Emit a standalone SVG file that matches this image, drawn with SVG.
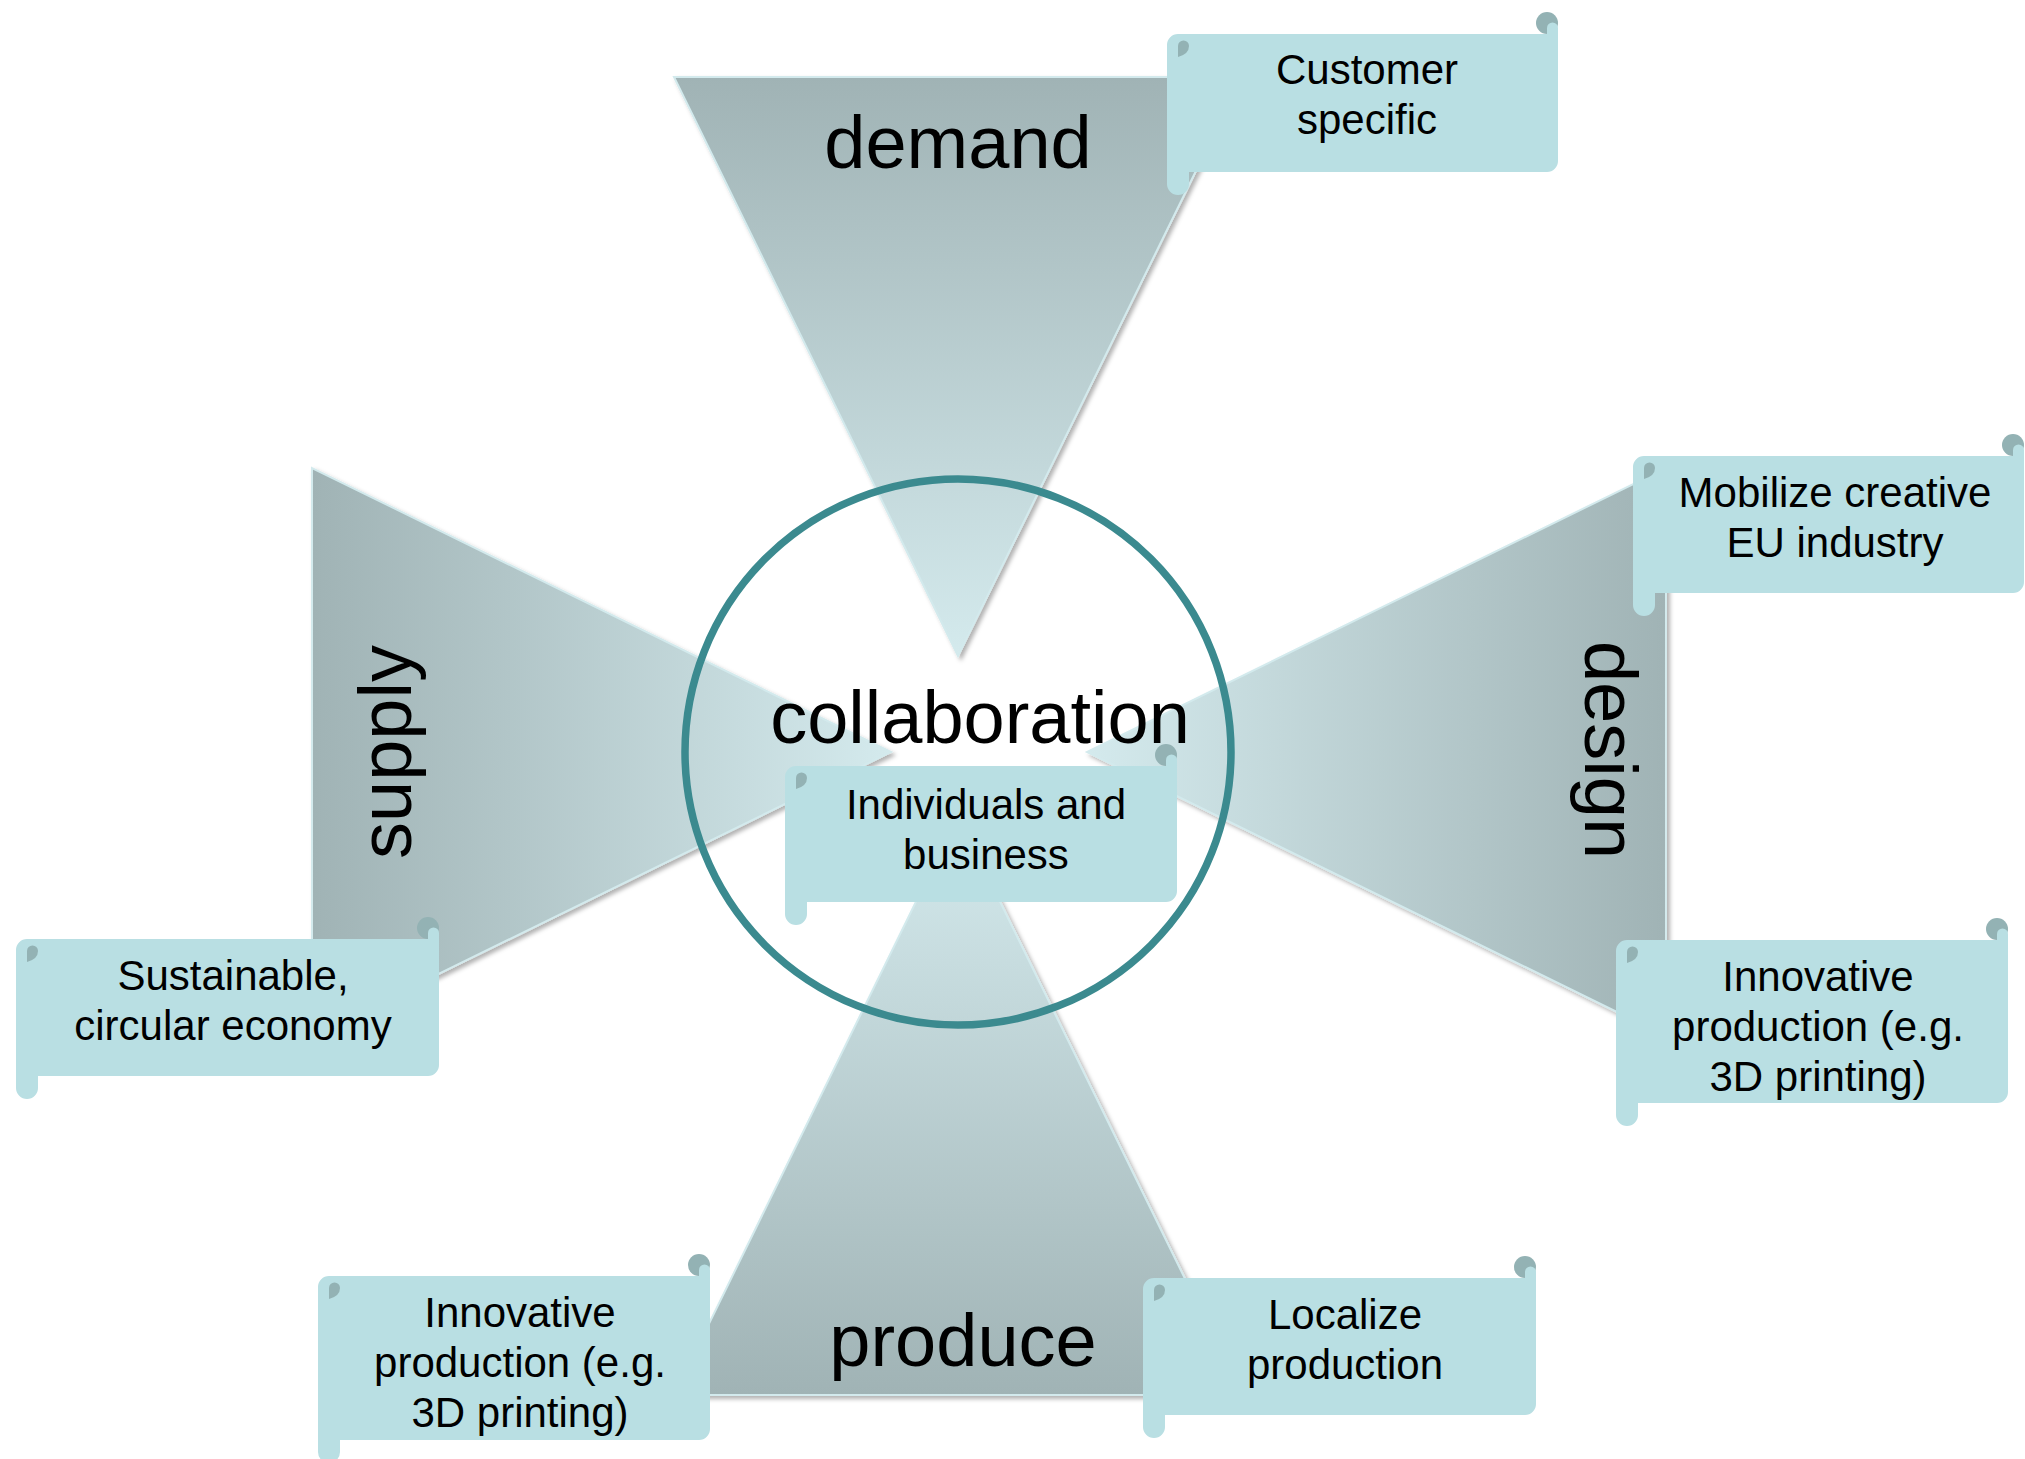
<svg xmlns="http://www.w3.org/2000/svg" width="2025" height="1459" viewBox="0 0 2025 1459">
<style>
.big{font-family:"Liberation Sans",Arial,sans-serif;font-size:74px;fill:#000;text-anchor:middle}
.lbl{font-family:"Liberation Sans",Arial,sans-serif;font-size:42px;fill:#000;text-anchor:middle}
.tri{stroke:#d3eaed;stroke-width:2;filter:url(#sh)}
.body{fill:#b9dfe3}
.dark{fill:#93b2b4}
</style>
<defs>
<filter id="sh" x="-10%" y="-10%" width="120%" height="120%">
<feDropShadow dx="3" dy="3" stdDeviation="2" flood-color="#000" flood-opacity="0.3"/>
</filter>
<linearGradient id="gDown" x1="0" y1="0" x2="0" y2="1"><stop offset="0" stop-color="#a0b3b5"/><stop offset="1" stop-color="#d4eaed"/></linearGradient>
<linearGradient id="gUp" x1="0" y1="1" x2="0" y2="0"><stop offset="0" stop-color="#a0b3b5"/><stop offset="1" stop-color="#d4eaed"/></linearGradient>
<linearGradient id="gRight" x1="0" y1="0" x2="1" y2="0"><stop offset="0" stop-color="#a0b3b5"/><stop offset="1" stop-color="#d4eaed"/></linearGradient>
<linearGradient id="gLeft" x1="1" y1="0" x2="0" y2="0"><stop offset="0" stop-color="#a0b3b5"/><stop offset="1" stop-color="#d4eaed"/></linearGradient>
</defs>
<rect width="2025" height="1459" fill="#fff"/>

<g id="wedges">
<g id="demand"><polygon class="tri" fill="url(#gDown)" points="674,77 1242,77 958,656"/></g>
<g id="supply"><polygon class="tri" fill="url(#gRight)" points="312,468 312,1036 891,752"/></g>
<g id="design"><polygon class="tri" fill="url(#gLeft)" points="1666,468 1666,1036 1087,752"/></g>
<g id="produce"><polygon class="tri" fill="url(#gUp)" points="674,1395 1242,1395 958,816"/></g>
</g>

<g id="connectors"></g>

<g id="collaboration">
<circle cx="958" cy="752" r="273" fill="none" stroke="#3b8a8f" stroke-width="7.5"/>
<text class="big" x="980" y="743">collaboration</text>
</g>

<g id="labels">
<text class="big" x="958" y="168">demand</text>
<text class="big" x="963" y="1366">produce</text>
<text class="big" transform="translate(411,752) rotate(-90)">supply</text>
<text class="big" transform="translate(1585,750) rotate(90)">design</text>
</g>

<g id="box-customer">
<path class="body" d="M1167,45 A11,11 0 0 1 1178,34 L1558,34 L1558,161 A11,11 0 0 1 1547,172 L1189,172 L1189,184 A11,11 0 0 1 1167,184 Z"/>
<circle class="dark" cx="1547" cy="23" r="11"/>
<path class="body" d="M1547,34 L1547,28 A5.5,5.5 0 0 1 1558,28 L1558,34 Z"/>
<path class="dark" d="M1178,57 L1178,46 A5.5,5.5 0 0 1 1189,46 Q1189,54 1178,57 Z"/>
<text class="lbl" x="1367" y="84">Customer</text>
<text class="lbl" x="1367" y="134">specific</text>
</g>

<g id="box-mobilize">
<path class="body" d="M1633,467 A11,11 0 0 1 1644,456 L2024,456 L2024,582 A11,11 0 0 1 2013,593 L1655,593 L1655,605 A11,11 0 0 1 1633,605 Z"/>
<circle class="dark" cx="2013" cy="445" r="11"/>
<path class="body" d="M2013,456 L2013,450 A5.5,5.5 0 0 1 2024,450 L2024,456 Z"/>
<path class="dark" d="M1644,479 L1644,468 A5.5,5.5 0 0 1 1655,468 Q1655,476 1644,479 Z"/>
<text class="lbl" x="1835" y="507">Mobilize creative</text>
<text class="lbl" x="1835" y="557">EU industry</text>
</g>

<g id="box-individuals">
<path class="body" d="M785,777 A11,11 0 0 1 796,766 L1177,766 L1177,891 A11,11 0 0 1 1166,902 L807,902 L807,914 A11,11 0 0 1 785,914 Z"/>
<circle class="dark" cx="1166" cy="755" r="11"/>
<path class="body" d="M1166,766 L1166,760 A5.5,5.5 0 0 1 1177,760 L1177,766 Z"/>
<path class="dark" d="M796,789 L796,778 A5.5,5.5 0 0 1 807,778 Q807,786 796,789 Z"/>
<text class="lbl" x="986" y="819">Individuals and</text>
<text class="lbl" x="986" y="869">business</text>
</g>

<g id="box-sustainable">
<path class="body" d="M16,950 A11,11 0 0 1 27,939 L439,939 L439,1065 A11,11 0 0 1 428,1076 L38,1076 L38,1088 A11,11 0 0 1 16,1088 Z"/>
<circle class="dark" cx="428" cy="928" r="11"/>
<path class="body" d="M428,939 L428,933 A5.5,5.5 0 0 1 439,933 L439,939 Z"/>
<path class="dark" d="M27,962 L27,951 A5.5,5.5 0 0 1 38,951 Q38,959 27,962 Z"/>
<text class="lbl" x="233" y="990">Sustainable,</text>
<text class="lbl" x="233" y="1040">circular economy</text>
</g>

<g id="box-innovative-right">
<path class="body" d="M1616,951 A11,11 0 0 1 1627,940 L2008,940 L2008,1092 A11,11 0 0 1 1997,1103 L1638,1103 L1638,1115 A11,11 0 0 1 1616,1115 Z"/>
<circle class="dark" cx="1997" cy="929" r="11"/>
<path class="body" d="M1997,940 L1997,934 A5.5,5.5 0 0 1 2008,934 L2008,940 Z"/>
<path class="dark" d="M1627,963 L1627,952 A5.5,5.5 0 0 1 1638,952 Q1638,960 1627,963 Z"/>
<text class="lbl" x="1818" y="991">Innovative</text>
<text class="lbl" x="1818" y="1041">production (e.g.</text>
<text class="lbl" x="1818" y="1091">3D printing)</text>
</g>

<g id="box-innovative-left">
<path class="body" d="M318,1287 A11,11 0 0 1 329,1276 L710,1276 L710,1429 A11,11 0 0 1 699,1440 L340,1440 L340,1452 A11,11 0 0 1 318,1452 Z"/>
<circle class="dark" cx="699" cy="1265" r="11"/>
<path class="body" d="M699,1276 L699,1270 A5.5,5.5 0 0 1 710,1270 L710,1276 Z"/>
<path class="dark" d="M329,1299 L329,1288 A5.5,5.5 0 0 1 340,1288 Q340,1296 329,1299 Z"/>
<text class="lbl" x="520" y="1327">Innovative</text>
<text class="lbl" x="520" y="1377">production (e.g.</text>
<text class="lbl" x="520" y="1427">3D printing)</text>
</g>

<g id="box-localize">
<path class="body" d="M1143,1289 A11,11 0 0 1 1154,1278 L1536,1278 L1536,1404 A11,11 0 0 1 1525,1415 L1165,1415 L1165,1427 A11,11 0 0 1 1143,1427 Z"/>
<circle class="dark" cx="1525" cy="1267" r="11"/>
<path class="body" d="M1525,1278 L1525,1272 A5.5,5.5 0 0 1 1536,1272 L1536,1278 Z"/>
<path class="dark" d="M1154,1301 L1154,1290 A5.5,5.5 0 0 1 1165,1290 Q1165,1298 1154,1301 Z"/>
<text class="lbl" x="1345" y="1329">Localize</text>
<text class="lbl" x="1345" y="1379">production</text>
</g>
</svg>
